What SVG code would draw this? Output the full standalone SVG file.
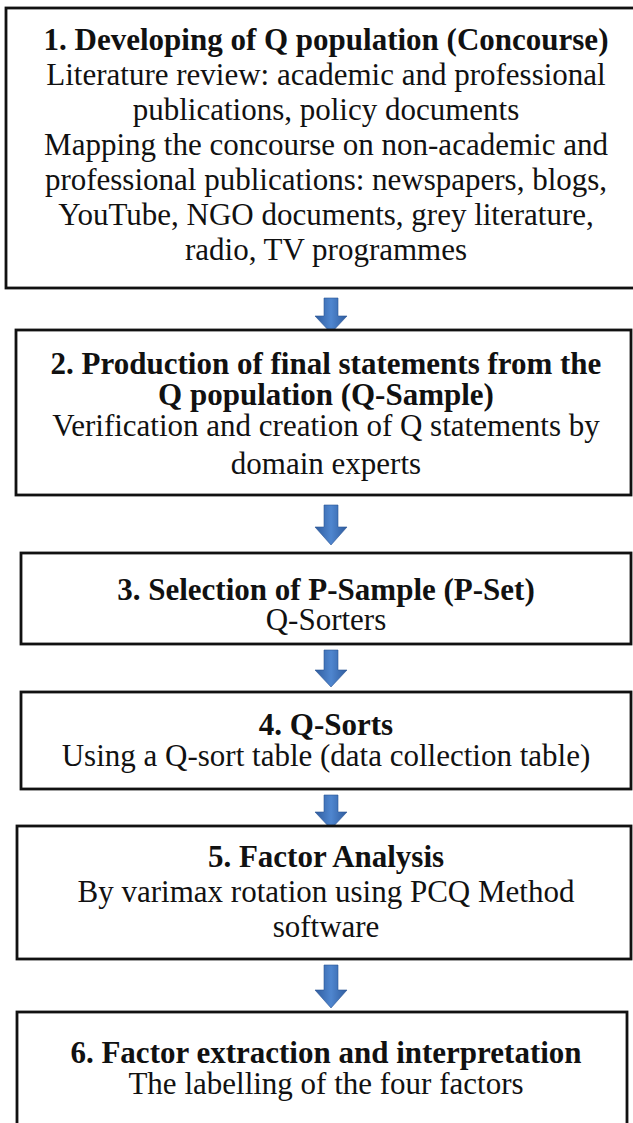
<svg xmlns="http://www.w3.org/2000/svg" width="633" height="1123" viewBox="0 0 633 1123">
<style>
.box{fill:#fff;stroke:#111;stroke-width:2.8}
.t{font-family:"Liberation Serif","Times New Roman",serif;font-size:31px;fill:#111;text-anchor:middle}
.b{font-weight:bold}
.arr{fill:url(#ag);stroke:#2a5494;stroke-width:0.6}
</style>
<defs>
<linearGradient id="ag" x1="0" y1="0" x2="1" y2="0">
<stop offset="0" stop-color="#2f5c9e"/>
<stop offset="0.5" stop-color="#4f86cf"/>
<stop offset="1" stop-color="#2f5c9e"/>
</linearGradient>
</defs>
<rect width="633" height="1123" fill="#fff"/>
<g id="connectors">
<path class="arr" d="M324,298 H338 V316 H347 L331,333 L315,316 H324 Z"/>
<path class="arr" d="M324,505 H338 V527 H347 L331,545 L315,527 H324 Z"/>
<path class="arr" d="M324,650 H338 V670 H347 L331,687 L315,670 H324 Z"/>
<path class="arr" d="M324,795 H338 V812 H347 L331,829 L315,812 H324 Z"/>
<path class="arr" d="M324,965 H338 V990 H347 L331,1008 L315,990 H324 Z"/>
</g>
<g id="node1">
<rect class="box" x="6" y="8" width="640" height="280"/>
<text class="t b" x="326" y="50">1. Developing of Q population (Concourse)</text>
<text class="t" x="326" y="85">Literature review: academic and professional</text>
<text class="t" x="326" y="120">publications, policy documents</text>
<text class="t" x="326" y="155">Mapping the concourse on non-academic and</text>
<text class="t" x="326" y="190">professional publications: newspapers, blogs,</text>
<text class="t" x="326" y="225">YouTube, NGO documents, grey literature,</text>
<text class="t" x="326" y="260">radio, TV programmes</text>
</g>
<g id="node2">
<rect class="box" x="16" y="330" width="615" height="165"/>
<text class="t b" x="326" y="374">2. Production of final statements from the</text>
<text class="t b" x="326" y="405">Q population (Q-Sample)</text>
<text class="t" x="326" y="436">Verification and creation of Q statements by</text>
<text class="t" x="326" y="474">domain experts</text>
</g>
<g id="node3">
<rect class="box" x="21" y="553" width="610" height="91"/>
<text class="t b" x="326" y="600">3. Selection of P-Sample (P-Set)</text>
<text class="t" x="326" y="630">Q-Sorters</text>
</g>
<g id="node4">
<rect class="box" x="21" y="692" width="610" height="97"/>
<text class="t b" x="326" y="735">4. Q-Sorts</text>
<text class="t" x="326" y="766">Using a Q-sort table (data collection table)</text>
</g>
<g id="node5">
<rect class="box" x="17" y="826" width="614" height="133"/>
<text class="t b" x="326" y="867">5. Factor Analysis</text>
<text class="t" x="326" y="902">By varimax rotation using PCQ Method</text>
<text class="t" x="326" y="937">software</text>
</g>
<g id="node6">
<rect class="box" x="17" y="1012" width="610" height="130"/>
<text class="t b" x="326" y="1063">6. Factor extraction and interpretation</text>
<text class="t" x="326" y="1094">The labelling of the four factors</text>
</g>
</svg>
